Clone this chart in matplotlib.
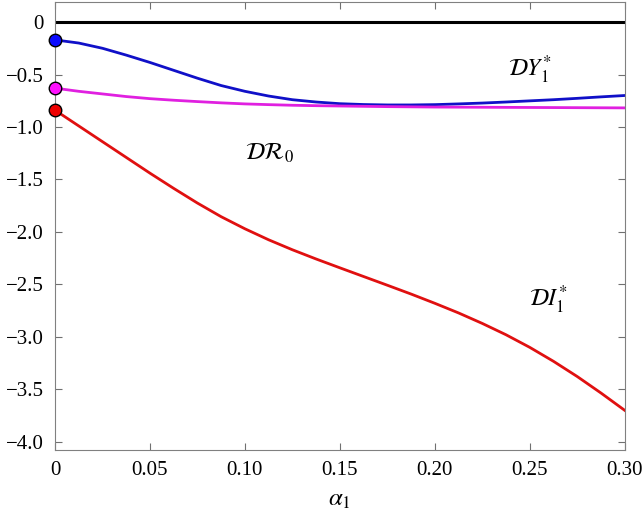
import matplotlib
matplotlib.use("Agg")
import matplotlib.pyplot as plt

plt.rcParams['font.family'] = ['Liberation Serif', 'DejaVu Serif']
plt.rcParams['mathtext.fontset'] = 'stix'

# values
alpha = [0, 0.0125, 0.025, 0.0375, 0.05, 0.0625, 0.075, 0.0875, 0.10, 0.1125, 0.125, 0.1375,
         0.15, 0.1625, 0.175, 0.1875, 0.20, 0.2125, 0.225, 0.2375, 0.25, 0.2625, 0.275, 0.2875, 0.30]
dY1 = [-0.17, -0.20, -0.25, -0.315, -0.385, -0.46, -0.535, -0.605, -0.66, -0.705, -0.74, -0.762,
       -0.778, -0.786, -0.79, -0.79, -0.787, -0.78, -0.772, -0.762, -0.751, -0.74, -0.727, -0.713, -0.70]
dR0 = [-0.63, -0.66, -0.685, -0.71, -0.73, -0.745, -0.758, -0.77, -0.78, -0.787, -0.793, -0.797,
       -0.80, -0.803, -0.806, -0.808, -0.81, -0.811, -0.812, -0.813, -0.814, -0.815, -0.816, -0.817, -0.818]
dI1 = [-0.84, -0.99, -1.14, -1.29, -1.44, -1.585, -1.725, -1.855, -1.97, -2.075, -2.17, -2.258,
       -2.342, -2.425, -2.508, -2.592, -2.68, -2.772, -2.872, -2.98, -3.10, -3.233, -3.378, -3.535, -3.70]

xticks = [0, 0.05, 0.10, 0.15, 0.20, 0.25, 0.30]
xtick_labels = ['0', '0.05', '0.10', '0.15', '0.20', '0.25', '0.30']
yticks = [0, -0.5, -1.0, -1.5, -2.0, -2.5, -3.0, -3.5, -4.0]
ytick_labels = ['0', '\u22120.5', '\u22121.0', '\u22121.5', '\u22122.0', '\u22122.5', '\u22123.0', '\u22123.5', '\u22124.0']

fig = plt.figure(figsize=(6.44, 5.29), dpi=100)
ax = fig.add_axes([0.0854, 0.149, 0.8846, 0.847])

ax.axhline(0, color='black', linewidth=2.2)
ax.plot(alpha, dY1, color='#1010c8', linewidth=2)
ax.plot(alpha, dR0, color='#e020e0', linewidth=2)
ax.plot(alpha, dI1, color='#e01010', linewidth=2)

ax.plot(alpha[0], dY1[0], 'o', color='#0a0aff', mec='black', ms=9, clip_on=False, zorder=5)
ax.plot(alpha[0], dR0[0], 'o', color='#ff10ff', mec='black', ms=9, clip_on=False, zorder=5)
ax.plot(alpha[0], dI1[0], 'o', color='#ee0000', mec='black', ms=9, clip_on=False, zorder=5)

ax.text(0.25, -0.46, r'$\mathcal{D}Y_1^{*}$', fontsize=17, ha='center', va='center')
ax.text(0.113, -1.25, r'$\mathcal{D}\mathcal{R}_0$', fontsize=17, ha='center', va='center')
ax.text(0.26, -2.65, r'$\mathcal{D}I_1^{*}$', fontsize=17, ha='center', va='center')

ax.set_xlim(0, 0.30)
ax.set_ylim(-4.08, 0.19)
ax.set_xticks(xticks)
ax.set_xticklabels(xtick_labels)
ax.set_yticks(yticks)
ax.set_yticklabels(ytick_labels)
ax.tick_params(direction='in', top=True, right=True, labelsize=15, length=5, color='#707070', pad=8)
for s in ax.spines.values():
    s.set_color('#808080')
ax.set_xlabel(r'$\alpha_1$', fontsize=18, labelpad=6)

fig.savefig('out.png', dpi=100)
